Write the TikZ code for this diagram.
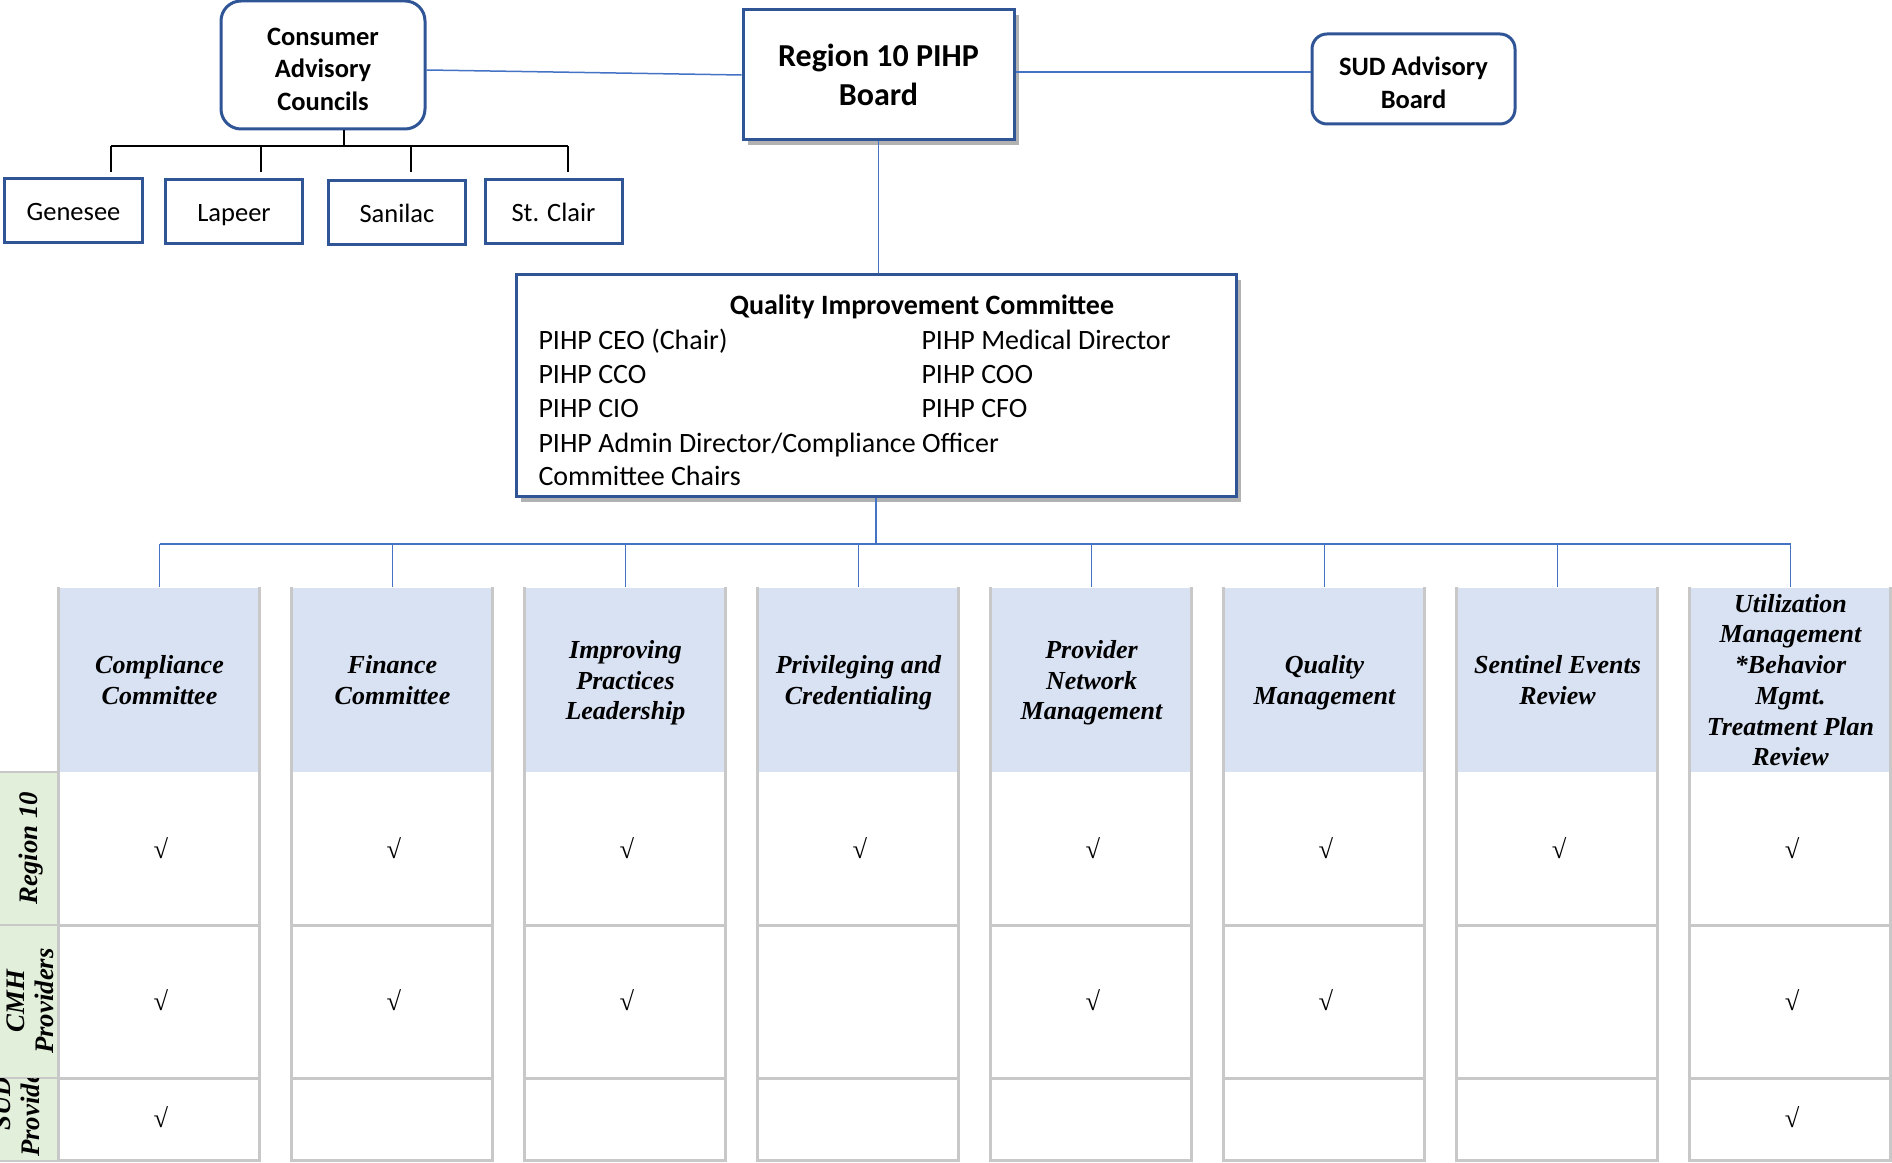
\documentclass[tikz,border=0pt]{standalone}
\usepackage{fontspec}
\setmainfont{Liberation Serif}
\newfontfamily\calibri{Carlito}
\usetikzlibrary{shadows}
\definecolor{BoxBlue}{RGB}{47,85,151}
\definecolor{LinkBlue}{RGB}{68,114,196}
\definecolor{HeadBlue}{RGB}{217,226,243}
\definecolor{RowGreen}{RGB}{226,239,218}
\definecolor{CellGray}{RGB}{200,200,200}

\begin{document}
\begin{tikzpicture}[x=.4pt,y=-.4pt,
  topbox/.style={draw=BoxBlue,line width=1.2pt,fill=white,align=center,inner sep=0pt,font=\calibri\bfseries\fontsize{10.6}{13}\selectfont},
  roundbox/.style={topbox,rounded corners=8pt},
  boxtext/.style={align=center,inner sep=0pt,font=\calibri\bfseries\fontsize{10.6}{13}\selectfont},
  lifted/.style={drop shadow={shadow xshift=2pt,shadow yshift=-2pt,opacity=.3,fill=black}},
  county/.style={draw=BoxBlue,line width=1.2pt,minimum width=54.8pt,minimum height=25.6pt,inner sep=0pt,text height=.95em,text depth=.18em,font=\calibri\fontsize{10.6}{13}\selectfont},
  link/.style={LinkBlue,line width=.6pt},
  twig/.style={line width=.5pt},
  colhead/.style={fill=HeadBlue,minimum width=80.4pt,minimum height=73.6pt,inner sep=0pt,align=center,execute at begin node=\strut,execute at end node=\strut,font=\bfseries\itshape\fontsize{10.4}{12.3}\selectfont},
  member/.style={anchor=west,inner sep=0pt,text height=.75em,text depth=.25em,font=\calibri\fontsize{11.2}{13.6}\selectfont},
  rowlabel/.style={rotate=90,align=center,inner sep=0pt,font=\bfseries\itshape\fontsize{10.7}{11.6}\selectfont},
  tickmark/.style={inner sep=0pt,font=\fontsize{10.6}{12}\selectfont},
  cellline/.style={CellGray,line width=1pt}]
\useasboundingbox (0,0) rectangle (1892,1163);

\node[roundbox,minimum width=81.6pt,minimum height=51.2pt] (cac) at (323,65) {};
\node[boxtext] (cac-text) at (323,69) {Consumer\\Advisory\\Councils};
\node[topbox,lifted,minimum width=108.4pt,minimum height=52pt,font=\calibri\bfseries\fontsize{12.8}{15.4}\selectfont] (board) at (878.5,75) {Region 10 PIHP\\Board};
\node[roundbox,rounded corners=6pt,minimum width=81.2pt,minimum height=36pt] (sud) at (1413.5,79) {};
\node[boxtext] (sud-text) at (1413.5,83) {SUD Advisory\\Board};
\draw[link] ([yshift=-2pt]cac.east) -- (board.west);
\draw[link] ([yshift=1.2pt]board.east) -- ([yshift=1.2pt]board.east -| sud.west);

\foreach \n/\x/\y/\t in {gen/73.5/211/Genesee,lap/234/212/Lapeer,san/397/213/Sanilac,stc/553.5/212/St. Clair}
  \node[county] (\n) at (\x,\y) {\t};
\coordinate (cbus) at (344,146);
\foreach \n/\x in {gen/111,lap/261,san/411,stc/568}
  \coordinate (\n-top) at (\x,172);
\draw[twig] (cac.south -| cbus) -- (cbus);
\draw[twig] (gen-top |- cbus) -- (stc-top |- cbus);
\foreach \n in {gen,lap,san,stc}
  \draw[twig] (\n-top |- cbus) -- (\n-top);

\node[draw=BoxBlue,line width=1.2pt,fill=white,lifted,minimum width=288pt,minimum height=88.8pt,inner sep=0pt] (qic) at (876,386) {};
\draw[link] (board.south) -- (board.south |- qic.north);
\node[inner sep=0pt,font=\calibri\bfseries\fontsize{11.2}{13.6}\selectfont] (qictitle) at (922,307) {Quality Improvement Committee};
\foreach \n/\x/\y/\t in {m1/538/343/{PIHP CEO (Chair)},m2/921/343/{PIHP Medical Director},m3/538/377/{PIHP CCO},m4/921/377/{PIHP COO},m5/538/411/{PIHP CIO},m6/921/411/{PIHP CFO},m7/538/446/{PIHP Admin Director/Compliance Officer},m8/538/479/{Committee Chairs}}
  \node[member] (\n) at (\x,\y) {\t};

\coordinate (bus) at (876,544);
\draw[link] (qic.south) -- (bus);
\fill[RowGreen] (0,772) rectangle (59,1161);
\foreach \i/\t in {1/{Compliance\\Committee},2/{Finance\\Committee},3/{Improving\\Practices\\Leadership},4/{Privileging and\\Credentialing},5/{Provider\\Network\\Management},6/{Quality\\Management},7/{Sentinel Events\\Review},8/{Utilization\\Management\\*Behavior\\Mgmt.\\Treatment Plan\\Review}}{
  \node[colhead,text depth=0pt] (hd\i) at ({159.5+233*(\i-1)},680) {\t};
  \draw[cellline] (hd\i.north west) -- ++(0,573) -- ++(201,0) -- ++(0,-573);
  \draw[cellline] (hd\i.south west) ++(0,153) -- ++(201,0) (hd\i.south west) ++(0,306) -- ++(201,0);
}
\draw[link] (hd1.north |- bus) -- (hd8.north |- bus);
\foreach \i in {1,...,8}
  \draw[link] (hd\i.north |- bus) -- (hd\i.north);

\draw[cellline] (0,772) -- (59,772) (0,925) -- (59,925) (0,1078) -- (59,1078) (0,1161) -- (59,1161);
\node[rowlabel] (rl1) at (31,848) {Region 10};
\node[rowlabel] (rl2) at (30,1001) {CMH\\Providers};
\begin{scope}
\clip (0,1078) rectangle (59,1161);
\node[rowlabel] (rl3) at (16,1104) {SUD\\Providers};
\end{scope}

\foreach \r/\y/\cols in {1/848/{1,2,3,4,5,6,7,8},2/1000/{1,2,3,5,6,8},3/1117/{1,8}}
  \foreach \c in \cols
    \node[tickmark] (ck\r\c) at ({161+233*(\c-1)},\y) {√};
\end{tikzpicture}
\end{document}
